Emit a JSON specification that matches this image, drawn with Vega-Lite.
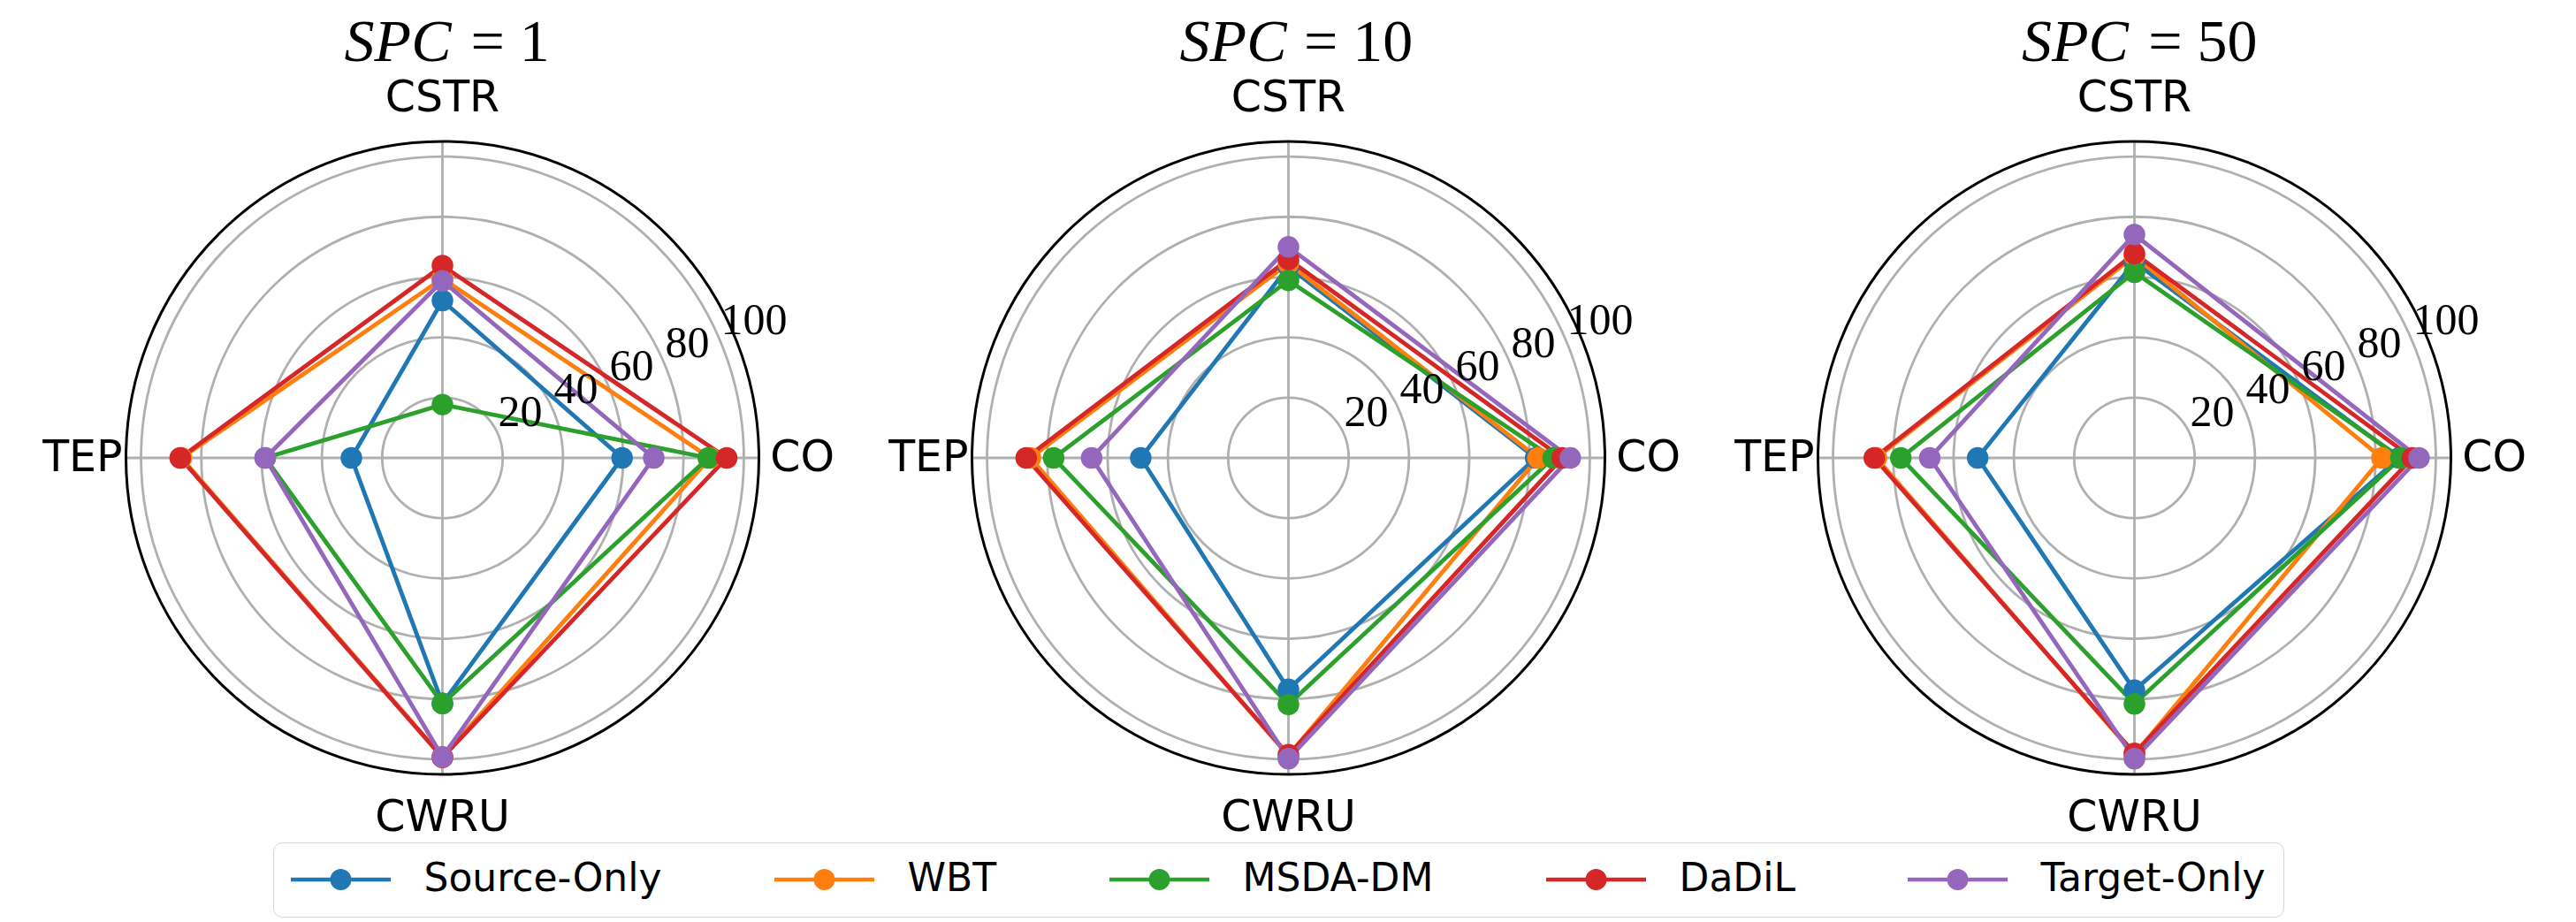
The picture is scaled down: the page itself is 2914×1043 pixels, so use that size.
{
  "$schema": "https://vega.github.io/schema/vega-lite/v6.json",
  "background": "white",
  "padding": {"left": 22, "top": 0, "right": 0, "bottom": 0},
  "spacing": 0,
  "bounds": "flush",
  "datasets": {
    "axes": [
      {"axis": "CO", "angle": 0},
      {"axis": "CSTR", "angle": 90},
      {"axis": "TEP", "angle": 180},
      {"axis": "CWRU", "angle": 270}
    ],
    "rings": [
      {"r": 20, "label": "20"},
      {"r": 40, "label": "40"},
      {"r": 60, "label": "60"},
      {"r": 80, "label": "80"},
      {"r": 100, "label": "100"}
    ],
    "outer": [{"r": 105}],
    "panels": [
      {"spc": "1", "eq": "= 1"},
      {"spc": "10", "eq": "= 10"},
      {"spc": "50", "eq": "= 50"}
    ],
    "scores": [
      {"spc": "1", "method": "Source-Only", "axis": "CO", "value": 59.6},
      {"spc": "1", "method": "Source-Only", "axis": "CSTR", "value": 52.2},
      {"spc": "1", "method": "Source-Only", "axis": "TEP", "value": 30.2},
      {"spc": "1", "method": "Source-Only", "axis": "CWRU", "value": 81.5},
      {"spc": "1", "method": "WBT", "axis": "CO", "value": 88.8},
      {"spc": "1", "method": "WBT", "axis": "CSTR", "value": 59.5},
      {"spc": "1", "method": "WBT", "axis": "TEP", "value": 86.6},
      {"spc": "1", "method": "WBT", "axis": "CWRU", "value": 99.2},
      {"spc": "1", "method": "MSDA-DM", "axis": "CO", "value": 88.2},
      {"spc": "1", "method": "MSDA-DM", "axis": "CSTR", "value": 17.7},
      {"spc": "1", "method": "MSDA-DM", "axis": "TEP", "value": 58.8},
      {"spc": "1", "method": "MSDA-DM", "axis": "CWRU", "value": 81.5},
      {"spc": "1", "method": "DaDiL", "axis": "CO", "value": 94.3},
      {"spc": "1", "method": "DaDiL", "axis": "CSTR", "value": 63.8},
      {"spc": "1", "method": "DaDiL", "axis": "TEP", "value": 87.0},
      {"spc": "1", "method": "DaDiL", "axis": "CWRU", "value": 99.4},
      {"spc": "1", "method": "Target-Only", "axis": "CO", "value": 70.1},
      {"spc": "1", "method": "Target-Only", "axis": "CSTR", "value": 58.7},
      {"spc": "1", "method": "Target-Only", "axis": "TEP", "value": 58.8},
      {"spc": "1", "method": "Target-Only", "axis": "CWRU", "value": 99.2},
      {"spc": "10", "method": "Source-Only", "axis": "CO", "value": 82.0},
      {"spc": "10", "method": "Source-Only", "axis": "CSTR", "value": 63.5},
      {"spc": "10", "method": "Source-Only", "axis": "TEP", "value": 49.0},
      {"spc": "10", "method": "Source-Only", "axis": "CWRU", "value": 76.8},
      {"spc": "10", "method": "WBT", "axis": "CO", "value": 82.8},
      {"spc": "10", "method": "WBT", "axis": "CSTR", "value": 64.6},
      {"spc": "10", "method": "WBT", "axis": "TEP", "value": 85.6},
      {"spc": "10", "method": "WBT", "axis": "CWRU", "value": 98.8},
      {"spc": "10", "method": "MSDA-DM", "axis": "CO", "value": 87.8},
      {"spc": "10", "method": "MSDA-DM", "axis": "CSTR", "value": 58.9},
      {"spc": "10", "method": "MSDA-DM", "axis": "TEP", "value": 77.9},
      {"spc": "10", "method": "MSDA-DM", "axis": "CWRU", "value": 81.8},
      {"spc": "10", "method": "DaDiL", "axis": "CO", "value": 90.8},
      {"spc": "10", "method": "DaDiL", "axis": "CSTR", "value": 65.9},
      {"spc": "10", "method": "DaDiL", "axis": "TEP", "value": 87.0},
      {"spc": "10", "method": "DaDiL", "axis": "CWRU", "value": 98.5},
      {"spc": "10", "method": "Target-Only", "axis": "CO", "value": 93.5},
      {"spc": "10", "method": "Target-Only", "axis": "CSTR", "value": 70.0},
      {"spc": "10", "method": "Target-Only", "axis": "TEP", "value": 65.3},
      {"spc": "10", "method": "Target-Only", "axis": "CWRU", "value": 99.8},
      {"spc": "50", "method": "Source-Only", "axis": "CO", "value": 87.8},
      {"spc": "50", "method": "Source-Only", "axis": "CSTR", "value": 65.0},
      {"spc": "50", "method": "Source-Only", "axis": "TEP", "value": 52.0},
      {"spc": "50", "method": "Source-Only", "axis": "CWRU", "value": 77.1},
      {"spc": "50", "method": "WBT", "axis": "CO", "value": 82.1},
      {"spc": "50", "method": "WBT", "axis": "CSTR", "value": 67.0},
      {"spc": "50", "method": "WBT", "axis": "TEP", "value": 85.6},
      {"spc": "50", "method": "WBT", "axis": "CWRU", "value": 98.4},
      {"spc": "50", "method": "MSDA-DM", "axis": "CO", "value": 88.4},
      {"spc": "50", "method": "MSDA-DM", "axis": "CSTR", "value": 61.6},
      {"spc": "50", "method": "MSDA-DM", "axis": "TEP", "value": 77.5},
      {"spc": "50", "method": "MSDA-DM", "axis": "CWRU", "value": 81.6},
      {"spc": "50", "method": "DaDiL", "axis": "CO", "value": 92.2},
      {"spc": "50", "method": "DaDiL", "axis": "CSTR", "value": 67.8},
      {"spc": "50", "method": "DaDiL", "axis": "TEP", "value": 86.3},
      {"spc": "50", "method": "DaDiL", "axis": "CWRU", "value": 98.0},
      {"spc": "50", "method": "Target-Only", "axis": "CO", "value": 94.4},
      {"spc": "50", "method": "Target-Only", "axis": "CSTR", "value": 74.1},
      {"spc": "50", "method": "Target-Only", "axis": "TEP", "value": 67.9},
      {"spc": "50", "method": "Target-Only", "axis": "CWRU", "value": 99.8}
    ]
  },
  "hconcat": [
    {
      "width": 957, "height": 1036,
      "layer": [
        {"data": {"name": "rings"}, "mark": {"type": "point", "shape": "circle", "filled": false, "stroke": "#b0b0b0", "strokeWidth": 2.8, "opacity": 1},
         "encoding": {"x": {"datum": 0, "type": "quantitative", "scale": {"domain": [-140.33, 140.33], "nice": false, "zero": false}, "axis": null},
                      "y": {"datum": 0, "type": "quantitative", "scale": {"domain": [-151.93, 151.93], "nice": false, "zero": false}, "axis": null},
                      "size": {"field": "r", "type": "quantitative", "legend": null, "scale": {"type": "pow", "exponent": 2, "domain": [0, 105], "range": [0, 512656], "zero": true}}}},
        {"data": {"name": "axes"}, "transform": [{"calculate": "0", "as": "o"}, {"calculate": "105*cos(datum.angle*PI/180)", "as": "ex"}, {"calculate": "105*sin(datum.angle*PI/180)", "as": "ey"}],
         "mark": {"type": "rule", "stroke": "#b0b0b0", "strokeWidth": 2.8},
         "encoding": {"x": {"field": "o", "type": "quantitative"}, "x2": {"field": "ex"},
                      "y": {"field": "o", "type": "quantitative"}, "y2": {"field": "ey"}}},
        {"data": {"name": "scores"}, "transform": [{"filter": "datum.spc=='1'"}, {"lookup": "axis", "from": {"data": {"name": "axes"}, "key": "axis", "fields": ["angle"]}}, {"calculate": "datum.value*cos(datum.angle*PI/180)", "as": "px"}, {"calculate": "datum.value*sin(datum.angle*PI/180)", "as": "py"}],
         "mark": {"type": "line", "interpolate": "linear-closed", "strokeWidth": 4.8},
         "encoding": {"x": {"field": "px", "type": "quantitative"},
                      "y": {"field": "py", "type": "quantitative"},
                      "order": {"field": "angle", "type": "quantitative"},
                      "color": {"field": "method", "type": "nominal", "title": null, "scale": {"domain": ["Source-Only", "WBT", "MSDA-DM", "DaDiL", "Target-Only"], "range": ["#1f77b4", "#ff7f0e", "#2ca02c", "#d62728", "#9467bd"]},
                                "legend": {"orient": "none", "legendX": 287, "legendY": 953, "direction": "horizontal", "columns": 5, "symbolType": "M-3.767,0L3.767,0M0.65,0A0.65,0.65,0,1,1,-0.65,0A0.65,0.65,0,1,1,0.65,0Z", "symbolSize": 900, "symbolStrokeWidth": 4.5, "symbolOffset": 34.5, "labelOffset": 72, "columnPadding": 117, "padding": 20, "labelFont": "DejaVu Sans", "labelFontSize": 44, "labelLimit": 1000, "labelColor": "black", "strokeColor": "#d4d4d4", "fillColor": "white", "cornerRadius": 10, "symbolOpacity": 1,
                                           "encode": {"symbols": {"update": {"fill": {"scale": "color", "field": "value"}, "stroke": {"scale": "color", "field": "value"}}}}}}}},
        {"data": {"name": "scores"}, "transform": [{"filter": "datum.spc=='1'"}, {"lookup": "axis", "from": {"data": {"name": "axes"}, "key": "axis", "fields": ["angle"]}}, {"calculate": "datum.value*cos(datum.angle*PI/180)", "as": "px"}, {"calculate": "datum.value*sin(datum.angle*PI/180)", "as": "py"}],
         "mark": {"type": "circle", "size": 600, "opacity": 1},
         "encoding": {"x": {"field": "px", "type": "quantitative"},
                      "y": {"field": "py", "type": "quantitative"},
                      "color": {"field": "method", "type": "nominal", "title": null}}},
        {"data": {"name": "outer"}, "mark": {"type": "point", "shape": "circle", "filled": false, "stroke": "black", "strokeWidth": 3, "opacity": 1},
         "encoding": {"x": {"datum": 0, "type": "quantitative"}, "y": {"datum": 0, "type": "quantitative"},
                      "size": {"field": "r", "type": "quantitative", "legend": null}}},
        {"data": {"name": "rings"}, "transform": [{"calculate": "datum.r*cos(22.5*PI/180)", "as": "tx"}, {"calculate": "datum.r*sin(22.5*PI/180)", "as": "ty"}],
         "mark": {"type": "text", "align": "left", "baseline": "alphabetic", "dy": -9.5, "font": "Liberation Serif", "fontSize": 50, "color": "black"},
         "encoding": {"x": {"field": "tx", "type": "quantitative"}, "y": {"field": "ty", "type": "quantitative"}, "text": {"field": "label"}}},
        {"data": {"name": "axes"}, "transform": [{"calculate": "119.4*cos(datum.angle*PI/180)", "as": "lx"}, {"calculate": "119.4*sin(datum.angle*PI/180)", "as": "ly"}],
         "mark": {"type": "text", "align": "center", "baseline": "middle", "font": "DejaVu Sans", "fontSize": 49, "color": "black"},
         "encoding": {"x": {"field": "lx", "type": "quantitative"}, "y": {"field": "ly", "type": "quantitative"}, "text": {"field": "axis"}}},
        {"data": {"name": "panels"}, "transform": [{"filter": "datum.spc=='1'"}],
         "mark": {"type": "text", "align": "right", "baseline": "alphabetic", "dx": 10, "font": "Liberation Serif", "fontStyle": "italic", "fontSize": 68, "color": "black"},
         "encoding": {"x": {"datum": 0, "type": "quantitative"}, "y": {"datum": 131.7, "type": "quantitative"}, "text": {"value": "SPC"}}},
        {"data": {"name": "panels"}, "transform": [{"filter": "datum.spc=='1'"}],
         "mark": {"type": "text", "align": "left", "baseline": "alphabetic", "dx": 32, "font": "Liberation Serif", "fontSize": 68, "color": "black"},
         "encoding": {"x": {"datum": 0, "type": "quantitative"}, "y": {"datum": 131.7, "type": "quantitative"}, "text": {"field": "eq"}}}
      ]
    },
    {
      "width": 957, "height": 1036,
      "layer": [
        {"data": {"name": "rings"}, "mark": {"type": "point", "shape": "circle", "filled": false, "stroke": "#b0b0b0", "strokeWidth": 2.8, "opacity": 1},
         "encoding": {"x": {"datum": 0, "type": "quantitative", "scale": {"domain": [-140.33, 140.33], "nice": false, "zero": false}, "axis": null},
                      "y": {"datum": 0, "type": "quantitative", "scale": {"domain": [-151.93, 151.93], "nice": false, "zero": false}, "axis": null},
                      "size": {"field": "r", "type": "quantitative", "legend": null, "scale": {"type": "pow", "exponent": 2, "domain": [0, 105], "range": [0, 512656], "zero": true}}}},
        {"data": {"name": "axes"}, "transform": [{"calculate": "0", "as": "o"}, {"calculate": "105*cos(datum.angle*PI/180)", "as": "ex"}, {"calculate": "105*sin(datum.angle*PI/180)", "as": "ey"}],
         "mark": {"type": "rule", "stroke": "#b0b0b0", "strokeWidth": 2.8},
         "encoding": {"x": {"field": "o", "type": "quantitative"}, "x2": {"field": "ex"},
                      "y": {"field": "o", "type": "quantitative"}, "y2": {"field": "ey"}}},
        {"data": {"name": "scores"}, "transform": [{"filter": "datum.spc=='10'"}, {"lookup": "axis", "from": {"data": {"name": "axes"}, "key": "axis", "fields": ["angle"]}}, {"calculate": "datum.value*cos(datum.angle*PI/180)", "as": "px"}, {"calculate": "datum.value*sin(datum.angle*PI/180)", "as": "py"}],
         "mark": {"type": "line", "interpolate": "linear-closed", "strokeWidth": 4.8},
         "encoding": {"x": {"field": "px", "type": "quantitative"},
                      "y": {"field": "py", "type": "quantitative"},
                      "order": {"field": "angle", "type": "quantitative"},
                      "color": {"field": "method", "type": "nominal", "title": null}}},
        {"data": {"name": "scores"}, "transform": [{"filter": "datum.spc=='10'"}, {"lookup": "axis", "from": {"data": {"name": "axes"}, "key": "axis", "fields": ["angle"]}}, {"calculate": "datum.value*cos(datum.angle*PI/180)", "as": "px"}, {"calculate": "datum.value*sin(datum.angle*PI/180)", "as": "py"}],
         "mark": {"type": "circle", "size": 600, "opacity": 1},
         "encoding": {"x": {"field": "px", "type": "quantitative"},
                      "y": {"field": "py", "type": "quantitative"},
                      "color": {"field": "method", "type": "nominal", "title": null}}},
        {"data": {"name": "outer"}, "mark": {"type": "point", "shape": "circle", "filled": false, "stroke": "black", "strokeWidth": 3, "opacity": 1},
         "encoding": {"x": {"datum": 0, "type": "quantitative"}, "y": {"datum": 0, "type": "quantitative"},
                      "size": {"field": "r", "type": "quantitative", "legend": null}}},
        {"data": {"name": "rings"}, "transform": [{"calculate": "datum.r*cos(22.5*PI/180)", "as": "tx"}, {"calculate": "datum.r*sin(22.5*PI/180)", "as": "ty"}],
         "mark": {"type": "text", "align": "left", "baseline": "alphabetic", "dy": -9.5, "font": "Liberation Serif", "fontSize": 50, "color": "black"},
         "encoding": {"x": {"field": "tx", "type": "quantitative"}, "y": {"field": "ty", "type": "quantitative"}, "text": {"field": "label"}}},
        {"data": {"name": "axes"}, "transform": [{"calculate": "119.4*cos(datum.angle*PI/180)", "as": "lx"}, {"calculate": "119.4*sin(datum.angle*PI/180)", "as": "ly"}],
         "mark": {"type": "text", "align": "center", "baseline": "middle", "font": "DejaVu Sans", "fontSize": 49, "color": "black"},
         "encoding": {"x": {"field": "lx", "type": "quantitative"}, "y": {"field": "ly", "type": "quantitative"}, "text": {"field": "axis"}}},
        {"data": {"name": "panels"}, "transform": [{"filter": "datum.spc=='10'"}],
         "mark": {"type": "text", "align": "right", "baseline": "alphabetic", "dx": -2, "font": "Liberation Serif", "fontStyle": "italic", "fontSize": 68, "color": "black"},
         "encoding": {"x": {"datum": 0, "type": "quantitative"}, "y": {"datum": 131.7, "type": "quantitative"}, "text": {"value": "SPC"}}},
        {"data": {"name": "panels"}, "transform": [{"filter": "datum.spc=='10'"}],
         "mark": {"type": "text", "align": "left", "baseline": "alphabetic", "dx": 17.5, "font": "Liberation Serif", "fontSize": 68, "color": "black"},
         "encoding": {"x": {"datum": 0, "type": "quantitative"}, "y": {"datum": 131.7, "type": "quantitative"}, "text": {"field": "eq"}}}
      ]
    },
    {
      "width": 957, "height": 1036,
      "layer": [
        {"data": {"name": "rings"}, "mark": {"type": "point", "shape": "circle", "filled": false, "stroke": "#b0b0b0", "strokeWidth": 2.8, "opacity": 1},
         "encoding": {"x": {"datum": 0, "type": "quantitative", "scale": {"domain": [-140.33, 140.33], "nice": false, "zero": false}, "axis": null},
                      "y": {"datum": 0, "type": "quantitative", "scale": {"domain": [-151.93, 151.93], "nice": false, "zero": false}, "axis": null},
                      "size": {"field": "r", "type": "quantitative", "legend": null, "scale": {"type": "pow", "exponent": 2, "domain": [0, 105], "range": [0, 512656], "zero": true}}}},
        {"data": {"name": "axes"}, "transform": [{"calculate": "0", "as": "o"}, {"calculate": "105*cos(datum.angle*PI/180)", "as": "ex"}, {"calculate": "105*sin(datum.angle*PI/180)", "as": "ey"}],
         "mark": {"type": "rule", "stroke": "#b0b0b0", "strokeWidth": 2.8},
         "encoding": {"x": {"field": "o", "type": "quantitative"}, "x2": {"field": "ex"},
                      "y": {"field": "o", "type": "quantitative"}, "y2": {"field": "ey"}}},
        {"data": {"name": "scores"}, "transform": [{"filter": "datum.spc=='50'"}, {"lookup": "axis", "from": {"data": {"name": "axes"}, "key": "axis", "fields": ["angle"]}}, {"calculate": "datum.value*cos(datum.angle*PI/180)", "as": "px"}, {"calculate": "datum.value*sin(datum.angle*PI/180)", "as": "py"}],
         "mark": {"type": "line", "interpolate": "linear-closed", "strokeWidth": 4.8},
         "encoding": {"x": {"field": "px", "type": "quantitative"},
                      "y": {"field": "py", "type": "quantitative"},
                      "order": {"field": "angle", "type": "quantitative"},
                      "color": {"field": "method", "type": "nominal", "title": null}}},
        {"data": {"name": "scores"}, "transform": [{"filter": "datum.spc=='50'"}, {"lookup": "axis", "from": {"data": {"name": "axes"}, "key": "axis", "fields": ["angle"]}}, {"calculate": "datum.value*cos(datum.angle*PI/180)", "as": "px"}, {"calculate": "datum.value*sin(datum.angle*PI/180)", "as": "py"}],
         "mark": {"type": "circle", "size": 600, "opacity": 1},
         "encoding": {"x": {"field": "px", "type": "quantitative"},
                      "y": {"field": "py", "type": "quantitative"},
                      "color": {"field": "method", "type": "nominal", "title": null}}},
        {"data": {"name": "outer"}, "mark": {"type": "point", "shape": "circle", "filled": false, "stroke": "black", "strokeWidth": 3, "opacity": 1},
         "encoding": {"x": {"datum": 0, "type": "quantitative"}, "y": {"datum": 0, "type": "quantitative"},
                      "size": {"field": "r", "type": "quantitative", "legend": null}}},
        {"data": {"name": "rings"}, "transform": [{"calculate": "datum.r*cos(22.5*PI/180)", "as": "tx"}, {"calculate": "datum.r*sin(22.5*PI/180)", "as": "ty"}],
         "mark": {"type": "text", "align": "left", "baseline": "alphabetic", "dy": -9.5, "font": "Liberation Serif", "fontSize": 50, "color": "black"},
         "encoding": {"x": {"field": "tx", "type": "quantitative"}, "y": {"field": "ty", "type": "quantitative"}, "text": {"field": "label"}}},
        {"data": {"name": "axes"}, "transform": [{"calculate": "119.4*cos(datum.angle*PI/180)", "as": "lx"}, {"calculate": "119.4*sin(datum.angle*PI/180)", "as": "ly"}],
         "mark": {"type": "text", "align": "center", "baseline": "middle", "font": "DejaVu Sans", "fontSize": 49, "color": "black"},
         "encoding": {"x": {"field": "lx", "type": "quantitative"}, "y": {"field": "ly", "type": "quantitative"}, "text": {"field": "axis"}}},
        {"data": {"name": "panels"}, "transform": [{"filter": "datum.spc=='50'"}],
         "mark": {"type": "text", "align": "right", "baseline": "alphabetic", "dx": -6.7, "font": "Liberation Serif", "fontStyle": "italic", "fontSize": 68, "color": "black"},
         "encoding": {"x": {"datum": 0, "type": "quantitative"}, "y": {"datum": 131.7, "type": "quantitative"}, "text": {"value": "SPC"}}},
        {"data": {"name": "panels"}, "transform": [{"filter": "datum.spc=='50'"}],
         "mark": {"type": "text", "align": "left", "baseline": "alphabetic", "dx": 15.7, "font": "Liberation Serif", "fontSize": 68, "color": "black"},
         "encoding": {"x": {"datum": 0, "type": "quantitative"}, "y": {"datum": 131.7, "type": "quantitative"}, "text": {"field": "eq"}}}
      ]
    }
  ],
  "config": {
    "view": {"stroke": null}
  }
}
